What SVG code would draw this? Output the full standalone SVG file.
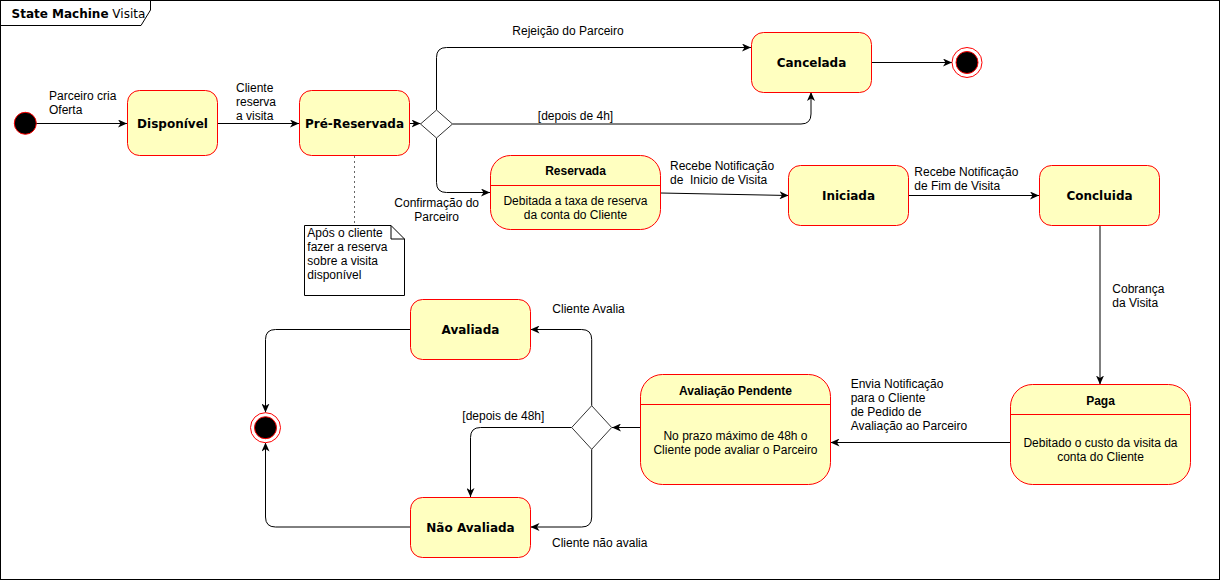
<svg xmlns="http://www.w3.org/2000/svg" width="1221" height="581" viewBox="0 0 1221 581">
<style>
.st{fill:#ffffc0;stroke:#ff0000;stroke-width:1}
.sep{stroke:#ff0000;stroke-width:1}
.dec{fill:#ffffff;stroke:#333333;stroke-width:1}
.sn{font-family:"DejaVu Sans",Verdana,sans-serif;font-weight:bold;font-size:12px;fill:#000;text-anchor:middle}
.ct{font-family:"Liberation Sans",Arial,sans-serif;font-weight:bold;font-size:12px;fill:#000;text-anchor:middle}
.cb{font-family:"Liberation Sans",Arial,sans-serif;font-size:12px;fill:#000;text-anchor:middle}
.lb{font-family:"Liberation Sans",Arial,sans-serif;font-size:12px;fill:#000;white-space:pre}
.lm{text-anchor:middle}
.edge{fill:none;stroke:#000;stroke-width:1;marker-end:url(#arr)}
.start{fill:#000;stroke:#ff0000;stroke-width:1}
.endo{fill:#fff;stroke:#ff0000;stroke-width:1}
</style>
<defs>
<marker id="arr" markerWidth="10" markerHeight="8" refX="9" refY="4" orient="auto" markerUnits="userSpaceOnUse">
<path d="M0,0 L9,4 L0,8 L2.5,4 Z" fill="#000"/>
</marker>
</defs>
<rect x="0" y="0" width="1221" height="581" fill="#ffffff"/>
<g id="frame">
<rect x="0.5" y="0.5" width="1219" height="579" fill="none" stroke="#000" stroke-width="1"/>
<path d="M0.5,25.5 L141,25.5 L150.5,10 L150.5,0.5" fill="none" stroke="#000" stroke-width="1"/>
<text x="11.5" y="18" font-family="DejaVu Sans, Verdana, sans-serif" font-size="12" fill="#000"><tspan font-weight="bold">State Machine</tspan> Visita</text>
</g>
<g id="connectors">
<path class="edge" d="M36,123.5 L127,123.5"/>
<path class="edge" d="M218,123.5 L299,123.5"/>
<path class="edge" d="M409.5,123.5 L420.5,123.5"/>
<path class="edge" d="M436.5,110 L436.5,57.5 Q436.5,47.5 446.5,47.5 L751,47.5"/>
<path class="edge" d="M452.5,124 L801,124 Q811,124 811,114 L811,92"/>
<path class="edge" d="M436.5,138 L436.5,182.5 Q436.5,192.5 446.5,192.5 L490,192.5"/>
<path class="edge" d="M871,62.5 L952,62.5"/>
<path class="edge" d="M660.5,193 L788.5,195.5"/>
<path class="edge" d="M908.5,195.5 L1039,195.5"/>
<path class="edge" d="M1100,225.5 L1100,384.5"/>
<path class="edge" d="M1010.5,442.5 L830.5,442.5"/>
<path class="edge" d="M640.5,427.5 L612,427.5"/>
<path class="edge" d="M591.7,405.7 L591.7,339.5 Q591.7,329.5 581.7,329.5 L530.5,329.5"/>
<path class="edge" d="M591.7,449.3 L591.7,517 Q591.7,527 581.7,527 L530.5,527"/>
<path class="edge" d="M571.7,427.5 L480.5,427.5 Q470.5,427.5 470.5,437.5 L470.5,497"/>
<path class="edge" d="M410.5,329.5 L275.5,329.5 Q265.5,329.5 265.5,339.5 L265.5,412.5"/>
<path class="edge" d="M410.5,527 L275.5,527 Q265.5,527 265.5,517 L265.5,442.5"/>
<path d="M354.5,156 L354.5,225.5" fill="none" stroke="#666" stroke-width="1" stroke-dasharray="2 3"/>
<text class="lb" x="49" y="99.5">Parceiro cria</text>
<text class="lb" x="49" y="113.5">Oferta</text>
<text class="lb" x="236" y="92">Cliente</text>
<text class="lb" x="236" y="106">reserva</text>
<text class="lb" x="236" y="120">a visita</text>
<text class="lb lm" x="568" y="35">Rejeição do Parceiro</text>
<text class="lb lm" x="575.5" y="119.5">[depois de 4h]</text>
<text class="lb lm" x="436.7" y="207">Confirmação do</text>
<text class="lb lm" x="436.7" y="221">Parceiro</text>
<text class="lb" x="670" y="169.5">Recebe Notificação</text>
<text class="lb" x="670" y="183.5">de  Inicio de Visita</text>
<text class="lb" x="914.3" y="175.5">Recebe Notificação</text>
<text class="lb" x="914.3" y="189.5">de Fim de Visita</text>
<text class="lb" x="1112.3" y="292.7">Cobrança</text>
<text class="lb" x="1112.3" y="306.7">da Visita</text>
<text class="lb" x="850.7" y="387.7">Envia Notificação</text>
<text class="lb" x="850.7" y="401.7">para o Cliente</text>
<text class="lb" x="850.7" y="415.7">de Pedido de</text>
<text class="lb" x="850.7" y="429.7">Avaliação ao Parceiro</text>
<text class="lb" x="552.3" y="312.7">Cliente Avalia</text>
<text class="lb" x="462.3" y="420">[depois de 48h]</text>
<text class="lb" x="552" y="547.3">Cliente não avalia</text>
</g>
<g id="start">
<circle class="start" cx="25.3" cy="123.3" r="11"/>
</g>
<g id="disponivel">
<rect class="st" x="127.5" y="90.5" width="90" height="65" rx="12"/>
<text class="sn" x="172.5" y="127.5">Disponível</text>
</g>
<g id="prereservada">
<rect class="st" x="299.5" y="90.5" width="110" height="65" rx="12"/>
<text class="sn" x="354.5" y="127.5">Pré-Reservada</text>
</g>
<g id="decisao1">
<path class="dec" d="M436.5,110 L452.5,124 L436.5,138 L420.5,124 Z"/>
</g>
<g id="cancelada">
<rect class="st" x="751.5" y="32.5" width="120" height="60" rx="12"/>
<text class="sn" x="811.5" y="67">Cancelada</text>
</g>
<g id="fim1">
<circle class="endo" cx="967" cy="62.5" r="15"/>
<circle class="start" cx="967" cy="62.5" r="11"/>
</g>
<g id="nota">
<path d="M304.5,225.5 L391,225.5 L404.5,239 L404.5,295.5 L304.5,295.5 Z" fill="#fff" stroke="#000" stroke-width="1"/>
<path d="M391,225.5 L391,239 L404.5,239" fill="none" stroke="#000" stroke-width="1"/>
<text class="lb" x="307.3" y="237.3">Após o cliente</text>
<text class="lb" x="307.3" y="251.3">fazer a reserva</text>
<text class="lb" x="307.3" y="265.3">sobre a visita</text>
<text class="lb" x="307.3" y="279.3">disponível</text>
</g>
<g id="reservada">
<rect class="st" x="490.5" y="155.5" width="170" height="74" rx="20"/>
<line class="sep" x1="490.5" y1="185.5" x2="660.5" y2="185.5"/>
<text class="ct" x="575.5" y="174.5">Reservada</text>
<text class="cb" x="575.5" y="205">Debitada a taxa de reserva</text>
<text class="cb" x="575.5" y="219">da conta do Cliente</text>
</g>
<g id="iniciada">
<rect class="st" x="788.5" y="165.5" width="120" height="60" rx="12"/>
<text class="sn" x="848.5" y="200">Iniciada</text>
</g>
<g id="concluida">
<rect class="st" x="1039.5" y="165.5" width="120" height="60" rx="12"/>
<text class="sn" x="1099.5" y="200">Concluida</text>
</g>
<g id="paga">
<rect class="st" x="1010.5" y="384.5" width="180" height="100" rx="22"/>
<line class="sep" x1="1010.5" y1="414.5" x2="1190.5" y2="414.5"/>
<text class="ct" x="1100.5" y="405">Paga</text>
<text class="cb" x="1100.5" y="446.5">Debitado o custo da visita da</text>
<text class="cb" x="1100.5" y="460.5">conta do Cliente</text>
</g>
<g id="avaliacaopendente">
<rect class="st" x="640.5" y="374.5" width="190" height="110" rx="22"/>
<line class="sep" x1="640.5" y1="404.5" x2="830.5" y2="404.5"/>
<text class="ct" x="735.5" y="394.5">Avaliação Pendente</text>
<text class="cb" x="735.5" y="440">No prazo máximo de 48h o</text>
<text class="cb" x="735.5" y="454">Cliente pode avaliar o Parceiro</text>
</g>
<g id="decisao2">
<path class="dec" d="M591.7,405.7 L611.7,427.5 L591.7,449.3 L571.7,427.5 Z"/>
</g>
<g id="avaliada">
<rect class="st" x="410.5" y="299.5" width="120" height="60" rx="12"/>
<text class="sn" x="470.5" y="334">Avaliada</text>
</g>
<g id="naoavaliada">
<rect class="st" x="410.5" y="497.5" width="120" height="60" rx="12"/>
<text class="sn" x="470.5" y="532">Não Avaliada</text>
</g>
<g id="fim2">
<circle class="endo" cx="265.5" cy="427.7" r="15"/>
<circle class="start" cx="265.5" cy="427.7" r="11"/>
</g>
</svg>
